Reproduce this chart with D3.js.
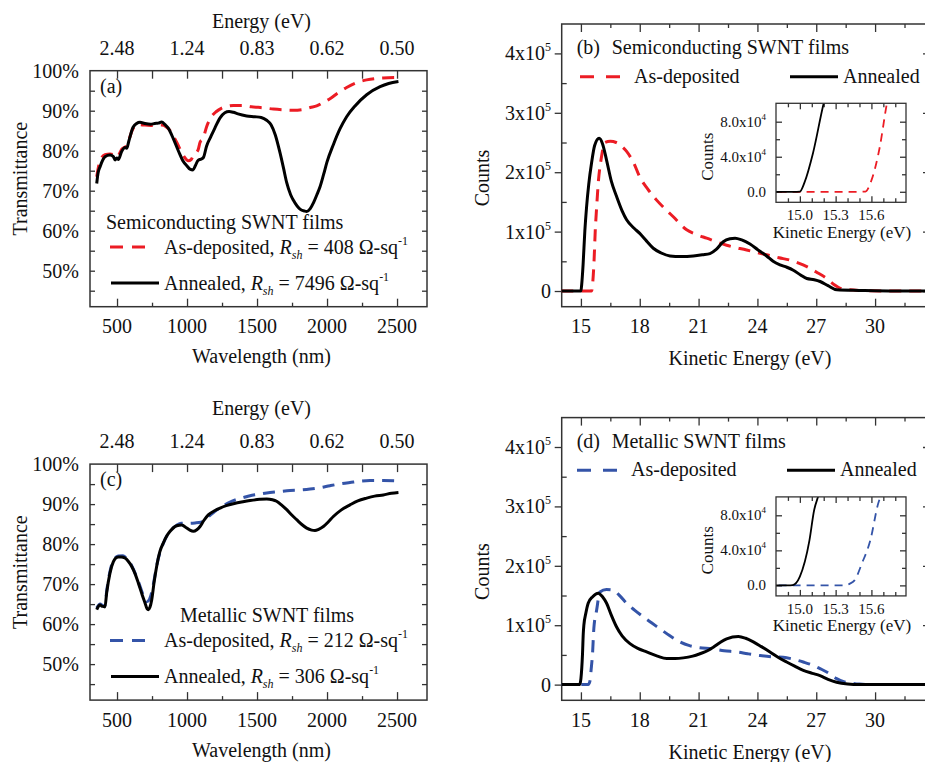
<!DOCTYPE html>
<html>
<head>
<meta charset="utf-8">
<script src="https://cdn.jsdelivr.net/npm/d3@7"></script>
<style>
body{margin:0;background:#fff;}
svg text{font-family:"Liberation Serif","Times New Roman",serif;fill:#111;}
</style>
</head>
<body>
<div id="plot"></div>
<script>

// ---- axis ticks / labels ----
const nmTicks = [500, 1000, 1500, 2000, 2500];
const energyLabels = ["2.48", "1.24", "0.83", "0.62", "0.50"];
const transTicks = [50, 60, 70, 80, 90, 100];
const keTicks = [15, 18, 21, 24, 27, 30];
const countTicks = [0, 1, 2, 3, 4];              // x10^5
const insetKeTicks = [15.0, 15.3, 15.6];
const insetCountTicks = [0, 0.4, 0.8];            // in 10^5 units
const insetCountLabels = [["0.0", ""], ["4.0x10", "4"], ["8.0x10", "4"]];

// ---- (a) semiconducting transmittance ----
const semiAsDepNm = [355,379,414,450,474,486,509,533,569,614,640,700,760,819,850,879,926,974,1009,1030,1045,1079,1093,1114,1140,1174,1210,1245,1290,1331,1400,1460,1550,1617,1688,1760,1831,1880,1926,1970,2021,2080,2140,2210,2283,2400,2510];
const semiAsDepT  = [73.5,77.5,79.0,79.2,79.0,78.5,78.8,80.3,81.3,85.5,86.5,86.4,86.3,86.4,86.0,85.0,82.1,78.8,77.5,77.8,78.8,80.2,82.1,83.0,86.0,88.5,89.8,90.6,91.1,91.3,91.3,91.0,90.7,90.4,90.2,90.1,90.3,90.8,91.2,92.0,93.0,94.5,95.8,97.0,97.7,98.2,98.3];
const semiAnnNm = [355,364,379,400,414,450,474,486,498,509,533,557,569,585,614,640,664,698,740,769,795,819,843,867,902,940,970,1000,1021,1043,1060,1079,1100,1117,1140,1170,1198,1236,1270,1300,1331,1364,1426,1484,1530,1569,1600,1630,1664,1690,1712,1740,1760,1807,1840,1855,1880,1902,1930,1950,1975,2000,2045,2093,2140,2200,2283,2379,2440,2510];
const semiAnnT  = [71.8,74.3,76.0,77.8,78.5,78.9,78.5,77.7,78.2,77.8,79.8,80.8,80.6,82.5,85.8,86.8,87.1,86.8,86.6,86.8,86.9,87.2,86.5,85.6,83.0,79.8,77.5,76.2,75.4,75.2,76.3,77.6,77.9,78.3,81.2,83.5,85.6,88.2,89.5,89.8,89.6,89.2,88.7,88.5,88.3,87.6,86.5,84.0,79.5,75.5,72.0,69.0,67.6,65.4,64.9,64.8,65.5,66.9,69.2,71.0,74.0,77.2,81.5,85.5,88.5,91.2,94.0,96.0,96.8,97.3];

// ---- (c) metallic transmittance ----
const metAsDepNm = [355,379,403,414,426,450,474,509,540,557,605,652,690,710,724,740,765,783,831,879,926,957,1000,1057,1100,1138,1170,1200,1250,1300,1350,1400,1450,1500,1569,1650,1736,1800,1879,1950,2021,2100,2188,2250,2307,2400,2498];
const metAsDepT  = [64.0,65.0,64.6,64.6,68.2,73.2,76.0,77.0,77.1,76.8,74.6,70.7,67.0,65.6,65.8,67.0,71.0,74.6,80.2,83.3,84.7,85.2,85.2,85.3,85.5,86.3,87.4,88.2,89.4,90.4,91.1,91.6,92.1,92.4,92.8,93.1,93.4,93.5,93.75,94.1,94.6,95.1,95.5,95.8,95.9,95.9,95.8];
const metAnnNm = [355,370,379,390,403,414,426,450,474,490,509,530,557,580,605,630,652,680,700,715,724,735,748,765,783,805,831,855,879,926,962,998,1020,1045,1070,1093,1120,1152,1200,1236,1280,1331,1400,1450,1520,1569,1610,1640,1680,1712,1750,1783,1820,1855,1890,1914,1940,1974,2010,2045,2100,2164,2220,2283,2340,2402,2460,2510];
const metAnnT  = [63.6,64.6,64.8,64.5,64.4,64.3,67.8,72.8,75.6,76.5,76.8,76.8,76.5,75.7,74.4,72.5,70.3,67.3,65.3,63.8,63.6,64.2,66.1,70.5,74.4,78.0,80.3,82.0,83.2,84.6,84.8,84.0,83.5,83.2,83.6,84.4,85.9,87.3,88.4,89.0,89.6,90.1,90.6,90.9,91.2,91.3,91.1,90.7,89.6,88.6,87.2,86.1,84.9,84.0,83.5,83.4,83.7,84.4,85.6,86.9,88.5,89.8,90.8,91.5,92.0,92.3,92.7,92.9];

// ---- (b) semiconducting UPS, counts in 10^5 ----
const semiUpsAsDepKE = [14.0,15.5,15.55,15.6,15.67,15.73,15.8,15.88,16.05,16.22,16.5,16.8,17.1,17.33,17.7,18.0,18.4,18.86,19.3,19.71,20.39,20.9,21.41,22.43,23.45,24.47,25.1,25.66,26.1,26.52,27.0,27.54,27.9,28.2,28.7,29.2,31.0,32.8];
const semiUpsAsDepC  = [0,0,0.003,0.13,0.51,1.01,1.4,1.8,2.26,2.5,2.52,2.5,2.43,2.35,2.15,1.92,1.72,1.53,1.38,1.25,1.03,0.95,0.89,0.77,0.69,0.61,0.56,0.52,0.47,0.41,0.32,0.21,0.11,0.05,0.02,0.01,0,0];
const semiUpsAnnKE = [14.0,14.95,15.0,15.04,15.11,15.2,15.29,15.4,15.54,15.7,15.93,16.1,16.31,16.55,16.82,17.1,17.33,17.7,18.0,18.35,18.69,19.1,19.54,20.1,20.73,21.2,21.58,21.9,22.26,22.6,22.86,23.2,23.62,24.0,24.47,24.8,25.15,25.5,25.83,26.2,26.52,26.9,27.2,27.6,28.05,29.2,31.0,32.8];
const semiUpsAnnC  = [0,0,0.003,0.11,0.44,1.01,1.42,1.8,2.15,2.45,2.57,2.48,2.2,1.85,1.59,1.35,1.2,1.06,0.97,0.84,0.72,0.64,0.59,0.58,0.59,0.61,0.63,0.7,0.83,0.88,0.89,0.86,0.79,0.7,0.59,0.5,0.44,0.4,0.35,0.27,0.21,0.19,0.16,0.09,0.02,0.01,0,0];

// ---- (d) metallic UPS, counts in 10^5 ----
const metUpsAsDepKE = [14.0,15.38,15.42,15.46,15.52,15.59,15.66,15.8,15.97,16.3,16.65,17.0,17.33,17.75,18.18,18.6,19.03,19.5,20.05,20.5,20.9,21.75,22.3,22.94,23.5,24.13,24.7,25.32,25.8,26.34,26.8,27.19,27.6,28.04,28.4,28.72,29.2,30.0,32.8];
const metUpsAsDepC  = [0,0,0.02,0.06,0.25,0.51,0.95,1.25,1.56,1.6,1.59,1.49,1.37,1.25,1.14,1.04,0.94,0.83,0.72,0.66,0.63,0.6,0.57,0.55,0.52,0.49,0.47,0.46,0.43,0.38,0.33,0.27,0.2,0.1,0.05,0.03,0.01,0,0];
const metUpsAnnKE = [14.0,14.9,14.94,15.0,15.08,15.12,15.15,15.25,15.37,15.6,15.88,16.1,16.31,16.55,16.82,17.1,17.5,17.9,18.35,18.9,19.37,19.8,20.22,20.7,21.07,21.45,21.75,22.1,22.43,23.03,23.4,23.79,24.2,24.64,25.05,25.49,25.9,26.34,26.8,27.19,27.6,28.04,28.6,29.2,32.8];
const metUpsAnnC  = [0,0,0.003,0.1,0.51,0.86,1.0,1.2,1.37,1.48,1.54,1.48,1.37,1.17,0.97,0.82,0.69,0.61,0.55,0.48,0.44,0.44,0.45,0.48,0.52,0.57,0.63,0.71,0.77,0.81,0.78,0.72,0.64,0.55,0.46,0.38,0.31,0.24,0.19,0.15,0.09,0.04,0.01,0,0];

const RED = "#ec1c24";
const BLUE = "#3454a8";
const AXIS = "#333";

var svg;

window.onload = function(){

    svg = d3.select("#plot")
        .append("svg")
        .attr("width", 925)
        .attr("height", 762);

    svg.append("rect").attr("width", 925).attr("height", 762).attr("fill", "#fff");

    drawSpectrum({
        id: "a", oy: 0, color: RED, tag: "(a)",
        asNm: semiAsDepNm, asT: semiAsDepT, annNm: semiAnnNm, annT: semiAnnT,
        energyTitleY: 28.3, title: "Semiconducting SWNT films", titleX: 106,
        asR: "408", annR: "7496"
    });

    drawSpectrum({
        id: "c", oy: 393.4, color: BLUE, tag: "(c)",
        asNm: metAsDepNm, asT: metAsDepT, annNm: metAnnNm, annT: metAnnT,
        energyTitleY: 21.6, title: "Metallic SWNT films", titleX: 180,
        asR: "212", annR: "306"
    });

    drawUps({
        id: "b", oy: 0, color: RED, tag: "(b)", title: "Semiconducting SWNT films",
        asKE: semiUpsAsDepKE, asC: semiUpsAsDepC, annKE: semiUpsAnnKE, annC: semiUpsAnnC,
        dash: [580, 623, 634], solid: [790, 838, 843]
    });

    drawUps({
        id: "d", oy: 393.6, color: BLUE, tag: "(d)", title: "Metallic SWNT films",
        asKE: metUpsAsDepKE, asC: metUpsAsDepC, annKE: metUpsAnnKE, annC: metUpsAnnC,
        dash: [577, 619, 631], solid: [787, 835, 840]
    });

};

function ticks(g, axisFn, scale, values, size, transform){

    g.append("g")
        .attr("transform", transform)
        .call(axisFn(scale).tickValues(values).tickSize(size).tickSizeOuter(0).tickFormat(""))
        .call(s => s.select(".domain").remove())
        .call(s => s.selectAll("line").attr("stroke", AXIS).attr("stroke-width", 1.3));

}

function rshText(sel, name, value){

    sel.append("tspan").text(name + ", ");
    sel.append("tspan").attr("font-style", "italic").text("R");
    sel.append("tspan").attr("font-style", "italic").attr("font-size", 12).attr("dy", 5).text("sh");
    sel.append("tspan").attr("dy", -5).text(" = " + value + " \u03A9-sq");
    sel.append("tspan").attr("font-size", 12).attr("dy", -9).text("-1");

}

function drawSpectrum(p){

    var left = 90, right = 427;
    var top = 70.7 + p.oy, bottom = 306.7 + p.oy;

    var x = d3.scaleLinear().domain([307, 2714]).range([left, right]);
    var y = d3.scaleLinear().domain([41, 100]).range([bottom, top]);

    var g = svg.append("g");

    g.append("clipPath").attr("id", "clip" + p.id)
        .append("rect").attr("x", left).attr("y", top).attr("width", right - left).attr("height", bottom - top);

    // ticks, all pointing inward
    ticks(g, d3.axisBottom, x, nmTicks, -8, `translate(0,${bottom})`);
    ticks(g, d3.axisBottom, x, [750, 1250, 1750, 2250], -4, `translate(0,${bottom})`);
    ticks(g, d3.axisTop, x, d3.range(500, 2501, 250), -8, `translate(0,${top})`);
    ticks(g, d3.axisLeft, y, d3.range(45, 100, 5), -5, `translate(${left},0)`);
    ticks(g, d3.axisRight, y, d3.range(45, 100, 5), -5, `translate(${right},0)`);

    g.append("rect")
        .attr("x", left).attr("y", top).attr("width", right - left).attr("height", bottom - top)
        .attr("fill", "none").attr("stroke", AXIS).attr("stroke-width", 1.5);

    // labels
    g.selectAll(".xl").data(nmTicks).enter().append("text")
        .attr("x", d => x(d)).attr("y", 333.3 + p.oy)
        .attr("text-anchor", "middle").attr("font-size", 20).text(d => d);

    g.selectAll(".el").data(nmTicks).enter().append("text")
        .attr("x", d => x(d)).attr("y", 55 + p.oy)
        .attr("text-anchor", "middle").attr("font-size", 20).text((d, i) => energyLabels[i]);

    g.selectAll(".yl").data(transTicks).enter().append("text")
        .attr("x", 79).attr("y", d => y(d) + 7)
        .attr("text-anchor", "end").attr("font-size", 20).text(d => d + "%");

    g.append("text").attr("x", (left + right) / 2 + 3).attr("y", p.energyTitleY + p.oy)
        .attr("text-anchor", "middle").attr("font-size", 20).text("Energy (eV)");

    g.append("text").attr("x", (left + right) / 2 + 3).attr("y", 363.3 + p.oy)
        .attr("text-anchor", "middle").attr("font-size", 20).text("Wavelength (nm)");

    g.append("text").attr("transform", `translate(27,${(top + bottom) / 2 - 10}) rotate(-90)`)
        .attr("text-anchor", "middle").attr("font-size", 20).text("Transmittance");

    g.append("text").attr("x", 100).attr("y", 92.7 + p.oy).attr("font-size", 20).text(p.tag);

    // curves
    var line = d3.line().x(d => x(d[0])).y(d => y(d[1])).curve(d3.curveMonotoneX);

    var curves = g.append("g").attr("clip-path", `url(#clip${p.id})`);

    curves.append("path").datum(d3.zip(p.asNm, p.asT))
        .attr("d", line).attr("fill", "none")
        .attr("stroke", p.color).attr("stroke-width", 3).attr("stroke-dasharray", "12,8");

    curves.append("path").datum(d3.zip(p.annNm, p.annT))
        .attr("d", line).attr("fill", "none")
        .attr("stroke", "#000").attr("stroke-width", 3);

    // legend
    g.append("text").attr("x", p.titleX).attr("y", 228.5 + p.oy).attr("font-size", 20).text(p.title);

    g.append("line").attr("x1", 110).attr("x2", 153).attr("y1", 247 + p.oy).attr("y2", 247 + p.oy)
        .attr("stroke", p.color).attr("stroke-width", 3).attr("stroke-dasharray", "13,9");

    rshText(g.append("text").attr("x", 164).attr("y", 253.5 + p.oy).attr("font-size", 20), "As-deposited", p.asR);

    g.append("line").attr("x1", 111).attr("x2", 159).attr("y1", 283 + p.oy).attr("y2", 283 + p.oy)
        .attr("stroke", "#000").attr("stroke-width", 3);

    rshText(g.append("text").attr("x", 164).attr("y", 289.5 + p.oy).attr("font-size", 20), "Annealed", p.annR);

}

function drawUps(p){

    var left = 561.7, right = 930;
    var top = 24 + p.oy, bottom = 306.7 + p.oy;

    var x = d3.scaleLinear().domain([14.02, 32.8]).range([left, right]);
    var y = d3.scaleLinear().domain([-0.264, 4.495]).range([bottom, top]);

    var g = svg.append("g");

    g.append("clipPath").attr("id", "clip" + p.id)
        .append("rect").attr("x", left).attr("y", top).attr("width", right - left).attr("height", bottom - top);

    ticks(g, d3.axisBottom, x, keTicks, -8, `translate(0,${bottom})`);
    ticks(g, d3.axisBottom, x, d3.range(16.5, 32.5, 3), -4, `translate(0,${bottom})`);
    ticks(g, d3.axisTop, x, keTicks, -8, `translate(0,${top})`);
    ticks(g, d3.axisTop, x, d3.range(16.5, 32.5, 3), -4, `translate(0,${top})`);
    ticks(g, d3.axisLeft, y, countTicks, 7, `translate(${left},0)`);
    ticks(g, d3.axisLeft, y, [0.5, 1.5, 2.5, 3.5], -5, `translate(${left},0)`);
    ticks(g, d3.axisRight, y, countTicks, -7, `translate(${right},0)`);
    ticks(g, d3.axisRight, y, [0.5, 1.5, 2.5, 3.5], -4, `translate(${right},0)`);

    g.append("rect")
        .attr("x", left).attr("y", top).attr("width", right - left).attr("height", bottom - top)
        .attr("fill", "none").attr("stroke", AXIS).attr("stroke-width", 1.5);

    g.selectAll(".xl").data(keTicks).enter().append("text")
        .attr("x", d => x(d)).attr("y", 333.3 + p.oy)
        .attr("text-anchor", "middle").attr("font-size", 20).text(d => d);

    g.selectAll(".yl").data(countTicks).enter().append("text")
        .attr("x", 551).attr("y", d => y(d) + 7)
        .attr("text-anchor", "end").attr("font-size", 20)
        .each(function(d){
            var t = d3.select(this);
            if(d == 0){
                t.text("0");
                return;
            }
            t.append("tspan").text(d + "x10");
            t.append("tspan").attr("font-size", 12).attr("dy", -9).text("5");
        });

    g.append("text").attr("x", 750).attr("y", 365 + p.oy)
        .attr("text-anchor", "middle").attr("font-size", 20).text("Kinetic Energy (eV)");

    g.append("text").attr("transform", `translate(489,${178 + p.oy}) rotate(-90)`)
        .attr("text-anchor", "middle").attr("font-size", 20).text("Counts");

    var line = d3.line().x(d => x(d[0])).y(d => y(d[1])).curve(d3.curveMonotoneX);

    var curves = g.append("g").attr("clip-path", `url(#clip${p.id})`);

    curves.append("path").datum(d3.zip(p.asKE, p.asC))
        .attr("d", line).attr("fill", "none")
        .attr("stroke", p.color).attr("stroke-width", 3).attr("stroke-dasharray", "12,8");

    curves.append("path").datum(d3.zip(p.annKE, p.annC))
        .attr("d", line).attr("fill", "none")
        .attr("stroke", "#000").attr("stroke-width", 3);

    // legend
    g.append("text").attr("x", 576.7).attr("y", 54.3 + p.oy).attr("font-size", 20).text(p.tag);
    g.append("text").attr("x", 611.7).attr("y", 54.3 + p.oy).attr("font-size", 20).text(p.title);

    g.append("line").attr("x1", p.dash[0]).attr("x2", p.dash[1]).attr("y1", 76.7 + p.oy).attr("y2", 76.7 + p.oy)
        .attr("stroke", p.color).attr("stroke-width", 3).attr("stroke-dasharray", "14,12");
    g.append("text").attr("x", p.dash[2]).attr("y", 82.7 + p.oy).attr("font-size", 20).text("As-deposited");

    g.append("line").attr("x1", p.solid[0]).attr("x2", p.solid[1]).attr("y1", 76.7 + p.oy).attr("y2", 76.7 + p.oy)
        .attr("stroke", "#000").attr("stroke-width", 3);
    g.append("text").attr("x", p.solid[2]).attr("y", 82.7 + p.oy).attr("font-size", 20).text("Annealed");

    // inset
    var il = 776, ir = 906, it = 103.3 + p.oy, ib = 202.3 + p.oy;

    var xi = d3.scaleLinear().domain([14.8, 15.89]).range([il, ir]);
    var yi = d3.scaleLinear().domain([-0.12, 1.01]).range([ib, it]);

    g.append("rect").attr("x", il).attr("y", it).attr("width", ir - il).attr("height", ib - it).attr("fill", "#fff");

    g.append("clipPath").attr("id", "clipi" + p.id)
        .append("rect").attr("x", il).attr("y", it).attr("width", ir - il).attr("height", ib - it);

    var minorKE = [14.9, 15.1, 15.2, 15.4, 15.5, 15.7, 15.8];

    ticks(g, d3.axisBottom, xi, insetKeTicks, -6, `translate(0,${ib})`);
    ticks(g, d3.axisBottom, xi, minorKE, -4, `translate(0,${ib})`);
    ticks(g, d3.axisTop, xi, insetKeTicks, -6, `translate(0,${it})`);
    ticks(g, d3.axisTop, xi, minorKE, -4, `translate(0,${it})`);
    ticks(g, d3.axisLeft, yi, insetCountTicks, -6, `translate(${il},0)`);
    ticks(g, d3.axisLeft, yi, [0.2, 0.6], -4, `translate(${il},0)`);
    ticks(g, d3.axisRight, yi, insetCountTicks, -6, `translate(${ir},0)`);
    ticks(g, d3.axisRight, yi, [0.2, 0.6], -4, `translate(${ir},0)`);

    var lineI = d3.line().x(d => xi(d[0])).y(d => yi(d[1])).curve(d3.curveMonotoneX);

    var ic = g.append("g").attr("clip-path", `url(#clipi${p.id})`);

    ic.append("path").datum(d3.zip(p.asKE, p.asC))
        .attr("d", lineI).attr("fill", "none")
        .attr("stroke", p.color).attr("stroke-width", 1.8).attr("stroke-dasharray", "8,6");

    ic.append("path").datum(d3.zip(p.annKE, p.annC))
        .attr("d", lineI).attr("fill", "none")
        .attr("stroke", "#000").attr("stroke-width", 1.8);

    g.append("rect").attr("x", il).attr("y", it).attr("width", ir - il).attr("height", ib - it)
        .attr("fill", "none").attr("stroke", AXIS).attr("stroke-width", 1.3);

    g.selectAll(".ixl").data(insetKeTicks).enter().append("text")
        .attr("x", d => xi(d)).attr("y", 220 + p.oy)
        .attr("text-anchor", "middle").attr("font-size", 15).text(d => d.toFixed(1));

    g.selectAll(".iyl").data(insetCountTicks).enter().append("text")
        .attr("x", 766).attr("y", d => yi(d) + 5)
        .attr("text-anchor", "end").attr("font-size", 15)
        .each(function(d, i){
            var t = d3.select(this);
            t.append("tspan").text(insetCountLabels[i][0]);
            if(insetCountLabels[i][1]){
                t.append("tspan").attr("font-size", 9).attr("dy", -7).text(insetCountLabels[i][1]);
            }
        });

    g.append("text").attr("x", 842).attr("y", 237.5 + p.oy)
        .attr("text-anchor", "middle").attr("font-size", 17).text("Kinetic Energy (eV)");

    g.append("text").attr("transform", `translate(712.5,${156.7 + p.oy}) rotate(-90)`)
        .attr("text-anchor", "middle").attr("font-size", 17).text("Counts");

}

</script>
</body>
</html>
